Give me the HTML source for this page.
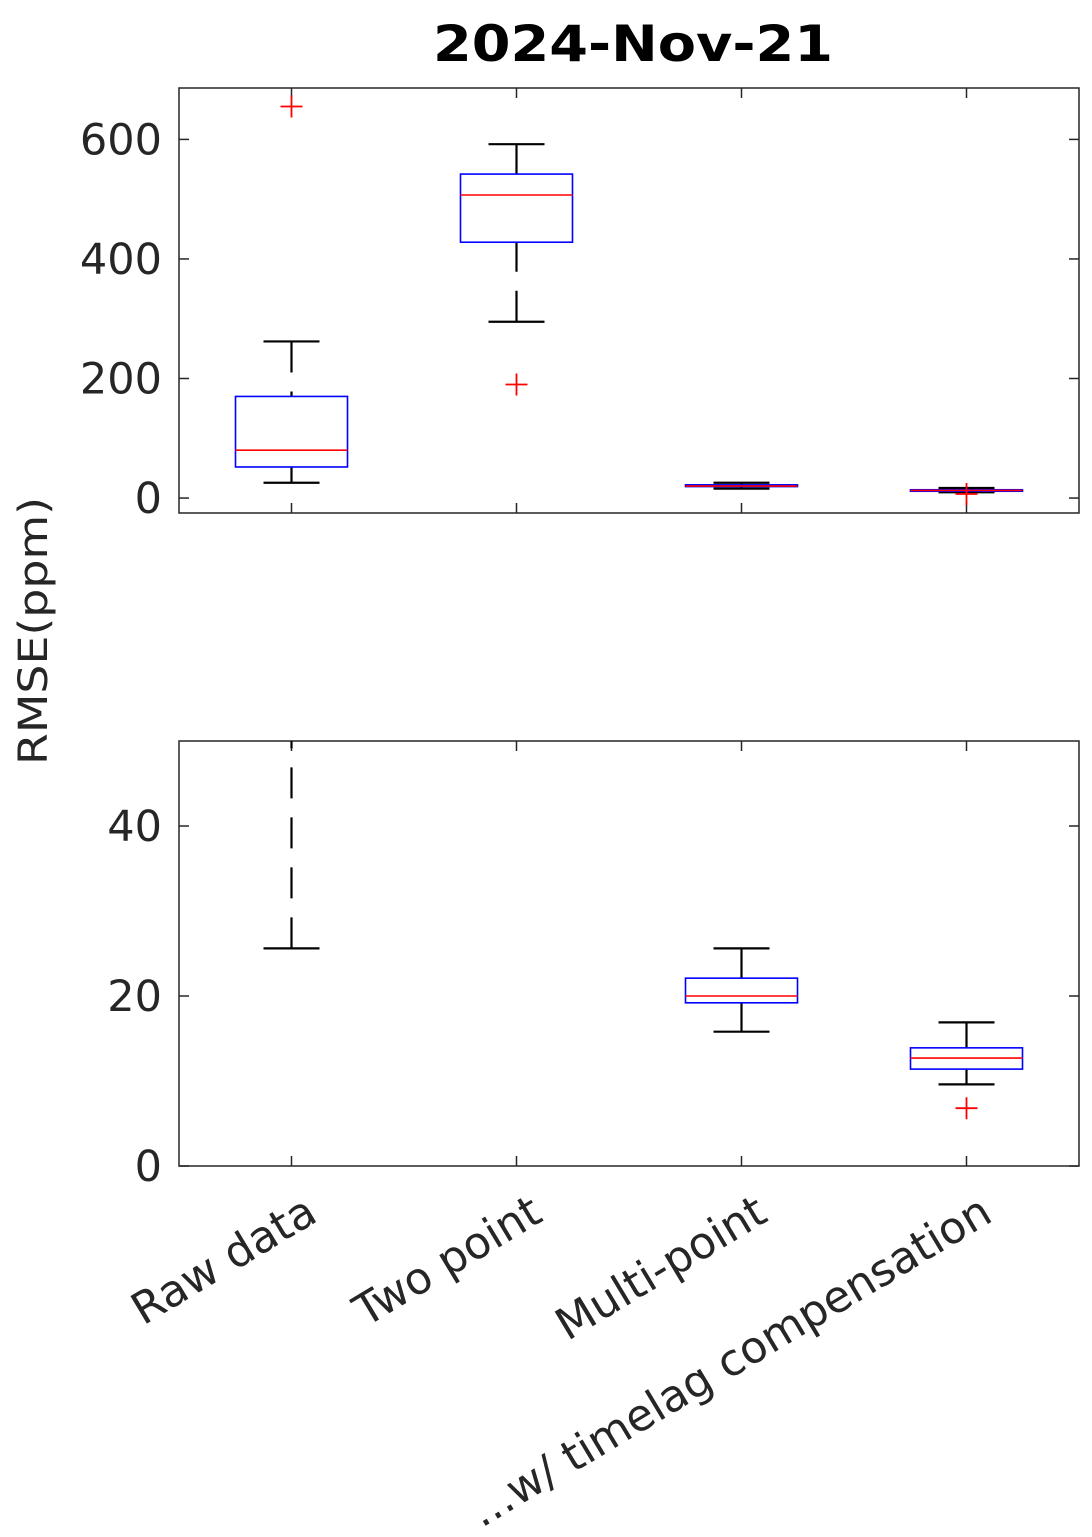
<!DOCTYPE html>
<html><head><meta charset="utf-8"><style>
html,body{margin:0;padding:0;background:#fff;width:1092px;height:1537px;overflow:hidden}
svg text{font-family:"DejaVu Sans","Liberation Sans",sans-serif}
</style></head><body>
<svg id="chart" width="1092" height="1537" xmlns="http://www.w3.org/2000/svg">
<text x="633" y="61" text-anchor="middle" font-size="50" font-weight="bold" fill="#000" textLength="400" lengthAdjust="spacingAndGlyphs">2024-Nov-21</text>
<text transform="translate(47,631) rotate(-90)" text-anchor="middle" font-size="40" fill="#262626" textLength="268" lengthAdjust="spacingAndGlyphs">RMSE(ppm)</text>
</svg>
<script>
const categories = ["Raw data","Two point","Multi-point","...w/ timelag compensation"];
const whiskerLow = [25.6, 295, 15.8, 9.6];
const q1 = [52, 428, 19.2, 11.4];
const medians = [80, 507, 20.0, 12.7];
const q3 = [170, 542, 22.1, 13.9];
const whiskerHigh = [262, 592, 25.6, 16.9];
const outliers = [[655], [190], [], [6.8]];
const topTicks = [0, 200, 400, 600];
const bottomTicks = [0, 20, 40];

const NS = "http://www.w3.org/2000/svg";
const svg = document.getElementById("chart");
function mk(tag, attrs, parent){const e=document.createElementNS(NS,tag);for(const k in attrs)e.setAttribute(k,attrs[k]);(parent||svg).appendChild(e);return e;}
const X0=179, X1=1079;
function xs(i){return X0+(i+0.5)*(X1-X0)/4;}

function panel(name, top, bot, ymin, ymax, ticks){
  const ys=v=>bot-(v-ymin)/(ymax-ymin)*(bot-top);
  const g=mk("g",{});
  
  
  const clipId=name+"-clip";
  const cp=mk("clipPath",{id:clipId},g); mk("rect",{x:X0,y:top,width:X1-X0,height:bot-top},cp);
  const frame=mk("rect",{x:X0,y:top,width:X1-X0,height:bot-top,fill:"none",stroke:"#262626","stroke-width":1.5},g);
  
  
  ticks.forEach(t=>{
    const y=ys(t);
    mk("line",{x1:X0,x2:X0+10,y1:y,y2:y,stroke:"#262626","stroke-width":1.5},g);
    mk("line",{x1:X1-10,x2:X1,y1:y,y2:y,stroke:"#262626","stroke-width":1.5},g);
    const tx=mk("text",{x:X0-17,y:y+15,"text-anchor":"end","font-size":43,fill:"#262626"},g);
    tx.textContent=t;
    
    
  });
  categories.forEach((c,i)=>{
    const x=xs(i);
    mk("line",{x1:x,x2:x,y1:bot,y2:bot-10,stroke:"#262626","stroke-width":1.5},g);
    mk("line",{x1:x,x2:x,y1:top,y2:top+10,stroke:"#262626","stroke-width":1.5},g);
  });
  const data=mk("g",{"clip-path":"url(#"+clipId+")"},g);
  categories.forEach((c,i)=>{
    const x=xs(i), hw=56, cw=28;
    const bx=mk("g",{},data);
    
    
    mk("line",{x1:x,x2:x,y1:ys(whiskerHigh[i]),y2:ys(q3[i]),stroke:"#000","stroke-width":2.2,"stroke-dasharray":"31 19"},bx);
    mk("line",{x1:x,x2:x,y1:ys(whiskerLow[i]),y2:ys(q1[i]),stroke:"#000","stroke-width":2.2,"stroke-dasharray":"31 19"},bx);
    mk("line",{x1:x-cw,x2:x+cw,y1:ys(whiskerHigh[i]),y2:ys(whiskerHigh[i]),stroke:"#000","stroke-width":2.2},bx);
    mk("line",{x1:x-cw,x2:x+cw,y1:ys(whiskerLow[i]),y2:ys(whiskerLow[i]),stroke:"#000","stroke-width":2.2},bx);
    mk("rect",{x:x-hw,y:ys(q3[i]),width:2*hw,height:Math.max(1,ys(q1[i])-ys(q3[i])),fill:"none",stroke:"#0000ff","stroke-width":1.6},bx);
    mk("line",{x1:x-hw,x2:x+hw,y1:ys(medians[i]),y2:ys(medians[i]),stroke:"#ff0000","stroke-width":1.6},bx);
    outliers[i].forEach(o=>{
      const y=ys(o);
      mk("path",{d:`M${x-11},${y}H${x+11}M${x},${y-11}V${y+11}`,stroke:"#ff0000","stroke-width":1.8,fill:"none"},bx);
    });
  });
}
panel("top-panel",88,513,-25,686,topTicks);
panel("bottom-panel",741,1166,0,50,bottomTicks);

categories.forEach((c,i)=>{
  const t=mk("text",{transform:`translate(${xs(i)+28},${1220}) rotate(-31)`,"text-anchor":"end","font-size":44,fill:"#262626"});
  t.textContent=c;
  
  
});
</script>
</body></html>
